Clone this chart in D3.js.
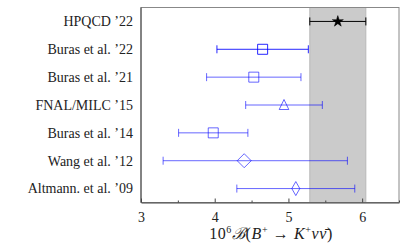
<!DOCTYPE html>
<html>
<head>
<meta charset="utf-8">
<script src="https://cdn.jsdelivr.net/npm/d3@7"></script>
<style>
  body { margin: 0; background: #fff; }
  svg text { font-family: "Liberation Serif", "DejaVu Serif", serif !important; }
</style>
</head>
<body>
<div id="chart"></div>
<script>
// data
const labels = ["HPQCD ’22", "Buras et al. ’22", "Buras et al. ’21", "FNAL/MILC ’15",
                "Buras et al. ’14", "Wang et al. ’12", "Altmann. et al. ’09"];
const centers = [5.67, 4.65, 4.53, 4.94, 3.98, 4.40, 5.10];
const errLow  = [0.38, 0.62, 0.64, 0.52, 0.47, 1.10, 0.80];
const errHigh = [0.38, 0.62, 0.64, 0.52, 0.47, 1.40, 0.80];
const markers = ["star", "square", "square", "triangle", "square", "diamond", "thin_diamond"];
const xTicks = [3, 4, 5, 6];
const xMinor = [3.5, 4.5, 5.5, 6.5];
const band = [5.29, 6.05];

const width = 407;
const height = 251;
const margin = {top: 7.5, right: 8, bottom: 48.5, left: 141};

const svg = d3.select("#chart")
    .append("svg")
    .attr("width", width)
    .attr("height", height);

const x = d3.scaleLinear()
    .domain([3, 6.5])
    .range([margin.left, width - margin.right]);

const y = d3.scaleLinear()
    .domain([-0.5, labels.length - 0.5])
    .range([margin.top, height - margin.bottom]);

// shaded HPQCD band
svg.append("rect")
    .attr("x", x(band[0]))
    .attr("y", margin.top)
    .attr("width", x(band[1]) - x(band[0]))
    .attr("height", height - margin.bottom - margin.top)
    .attr("fill", "#cbcbcb")
    .attr("stroke", "#b8b8b8")
    .attr("stroke-width", 1);

// frame
svg.append("rect")
    .attr("x", margin.left)
    .attr("y", margin.top)
    .attr("width", width - margin.right - margin.left)
    .attr("height", height - margin.bottom - margin.top)
    .attr("fill", "none")
    .attr("stroke", "#888")
    .attr("stroke-width", 1);

svg.append("line")
    .attr("x1", margin.left).attr("x2", margin.left)
    .attr("y1", margin.top).attr("y2", height - margin.bottom)
    .attr("stroke", "#444");

// bottom axis, ticks pointing in
const xAxis = svg.append("g")
    .attr("transform", `translate(0,${height - margin.bottom})`)
    .call(d3.axisBottom(x).tickValues(xTicks).tickFormat(d3.format("d"))
        .tickSizeInner(-4).tickSizeOuter(0).tickPadding(10));
xAxis.select(".domain").attr("stroke", "#444");
xAxis.selectAll(".tick line").attr("stroke", "#444");
xAxis.selectAll("text")
    .attr("font-size", 14)
    .attr("fill", "#222");

svg.append("g")
    .attr("transform", `translate(0,${height - margin.bottom})`)
    .call(d3.axisBottom(x).tickValues(xMinor).tickSizeInner(-2).tickSizeOuter(0).tickFormat(""))
    .call(g => g.select(".domain").remove())
    .selectAll(".tick line").attr("stroke", "#444");

// category labels
svg.append("g")
    .selectAll("text")
    .data(labels)
    .enter()
    .append("text")
    .attr("x", margin.left - 8)
    .attr("y", (d, i) => y(i))
    .attr("dy", "0.35em")
    .attr("text-anchor", "end")
    .attr("font-size", 14)
    .attr("fill", "#222")
    .text(d => d);

// x axis title
const title = svg.append("text")
    .attr("x", 271)
    .attr("y", 239)
    .attr("text-anchor", "middle")
    .attr("font-size", 16)
    .attr("letter-spacing", 0.6)
    .attr("fill", "#222");
title.append("tspan").text("10");
title.append("tspan").attr("font-size", 10).attr("dy", -6).text("6");
title.append("tspan").attr("dy", 6).attr("font-style", "italic").text("ℬ");
title.append("tspan").text("(");
title.append("tspan").attr("font-style", "italic").text("B");
title.append("tspan").attr("font-size", 10).attr("dy", -6).text("+");
title.append("tspan").attr("dy", 6).text(" → ");
title.append("tspan").attr("font-style", "italic").text("K");
title.append("tspan").attr("font-size", 10).attr("dy", -6).text("+");
title.append("tspan").attr("dy", 6).attr("font-style", "italic").text("νν̄");
title.append("tspan").text(")");

// error bars and markers
const colorOf = i => i === 0 ? "#000" : "#0000ff";
const alphaOf = i => i === 0 ? 1 : (i === 1 ? 0.85 : 0.6);

const rows = svg.append("g")
    .selectAll("g")
    .data(centers)
    .enter()
    .append("g")
    .attr("stroke", (d, i) => colorOf(i))
    .attr("stroke-opacity", (d, i) => alphaOf(i))
    .attr("fill", "none");

rows.append("line")
    .attr("x1", (d, i) => x(d - errLow[i]))
    .attr("x2", (d, i) => x(d + errHigh[i]))
    .attr("y1", (d, i) => y(i))
    .attr("y2", (d, i) => y(i));

rows.append("line")
    .attr("x1", (d, i) => x(d - errLow[i]))
    .attr("x2", (d, i) => x(d - errLow[i]))
    .attr("y1", (d, i) => y(i) - 4)
    .attr("y2", (d, i) => y(i) + 4);

rows.append("line")
    .attr("x1", (d, i) => x(d + errHigh[i]))
    .attr("x2", (d, i) => x(d + errHigh[i]))
    .attr("y1", (d, i) => y(i) - 4)
    .attr("y2", (d, i) => y(i) + 4);

function markerPath(kind){
    if(kind === "square") return "M-5,-5H5V5H-5Z";
    if(kind === "triangle") return "M0,-5.5L4.8,4.5H-4.8Z";
    if(kind === "diamond") return "M0,-7L7,0L0,7L-7,0Z";
    if(kind === "thin_diamond") return "M0,-7L4,0L0,7L-4,0Z";
    return d3.symbol().type(d3.symbolStar).size(38)();
}

rows.append("path")
    .attr("transform", (d, i) => `translate(${x(d)},${y(i)})`)
    .attr("d", (d, i) => markerPath(markers[i]))
    .attr("fill", (d, i) => markers[i] === "star" ? "#000" : "none")
    .attr("stroke-width", (d, i) => markers[i] === "star" ? 0.5 : 1);
</script>
</body>
</html>
